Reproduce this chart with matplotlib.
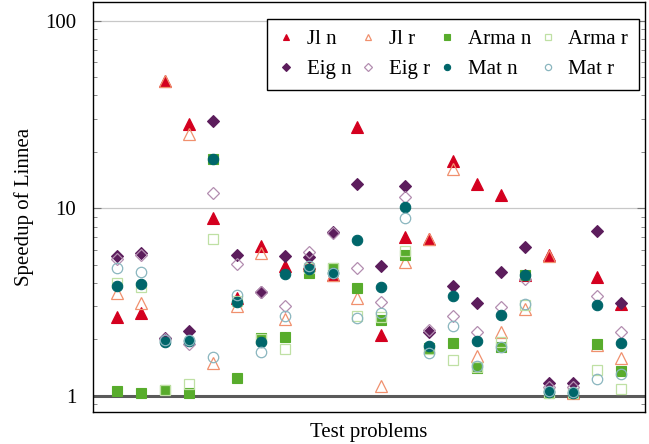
import numpy as np
import matplotlib
matplotlib.use("Agg")
import matplotlib.pyplot as plt

plt.rcParams["font.family"] = ["Liberation Serif", "DejaVu Serif"]

problems = np.arange(1, 23)

jl_n = [2.65, 2.77, 47.5, 28.2, 8.9, 3.34, 6.3, 4.95, 5.1, 4.4, 27.3, 2.12,
        7.0, 6.9, 17.9, 13.5, 11.8, 4.4, 5.65, 1.05, 4.3, 3.1]
jl_r = [3.55, 3.13, 48.0, 24.9, 1.5, 3.03, 5.8, 2.57, 5.0, 4.4, 3.34, 1.13,
        5.2, 6.9, 16.3, 1.63, 2.2, 2.9, 5.6, 1.03, 1.87, 1.59]
arma_n = [1.06, 1.04, 1.08, 1.04, 18.3, 1.25, 2.04, 2.06, 4.5, 4.8, 3.76, 2.54,
          5.65, 1.8, 1.91, 1.41, 1.83, 4.4, 1.03, 1.03, 1.9, 1.36]
arma_r = [4.0, 3.8, 1.08, 1.16, 6.9, 3.2, 2.0, 1.78, 4.8, 4.8, 2.67, 2.64,
          5.9, 1.78, 1.56, 1.43, 1.94, 3.05, 1.04, 1.03, 1.38, 1.09]
eig_n = [5.6, 5.8, 2.04, 2.23, 29.2, 5.64, 3.6, 5.6, 5.5, 7.5, 13.5, 4.95,
         13.1, 2.2, 3.87, 3.13, 4.6, 6.25, 1.17, 1.17, 7.6, 3.13]
eig_r = [5.4, 5.65, 2.0, 1.9, 12.1, 5.05, 3.6, 3.03, 5.85, 7.4, 4.8, 3.17,
         11.5, 2.25, 2.67, 2.2, 2.98, 4.2, 1.12, 1.12, 3.4, 2.2]
mat_n = [3.85, 3.95, 1.94, 1.97, 18.3, 3.17, 1.94, 4.46, 4.75, 4.5, 6.8, 3.8,
         10.2, 1.85, 3.4, 1.97, 2.7, 4.4, 1.05, 1.04, 3.05, 1.92]
mat_r = [4.8, 4.6, 1.99, 1.99, 1.61, 3.46, 1.72, 2.67, 4.95, 4.5, 2.6, 2.77,
         8.9, 1.7, 2.36, 1.45, 1.83, 3.1, 1.06, 1.05, 1.23, 1.31]

series = [
    ("Jl n", jl_n, "^", "#d4001f", True),
    ("Jl r", jl_r, "^", "#f0906e", False),
    ("Arma n", arma_n, "s", "#58ac2c", True),
    ("Arma r", arma_r, "s", "#bfe0a4", False),
    ("Eig n", eig_n, "D", "#5c1d5c", True),
    ("Eig r", eig_r, "D", "#b38db0", False),
    ("Mat n", mat_n, "o", "#00666a", True),
    ("Mat r", mat_r, "o", "#8ab6bf", False),
]

fig = plt.figure(figsize=(6.49, 4.44), dpi=100)
ax = fig.add_axes([0.143, 0.072, 0.851, 0.9235])

handles = []
for label, vals, m, c, filled in series:
    ms = {"^": 8.0, "s": 7.0, "D": 6.5, "o": 7.5}[m]
    h, = ax.plot(problems, vals, ls="none", marker=m, ms=ms,
                 mfc=c if filled else "none", mec=c,
                 mew=0.8 if filled else 0.9, label=label, zorder=3)
    handles.append(h)

ax.set_yscale("log")
ax.set_ylim(0.82, 126)
ax.set_xlim(0, 23)
ax.set_xticks([])
ax.set_yticks([1, 10, 100], ["1", "10", "100"])
ax.tick_params(axis="y", which="both", direction="in", right=True,
               labelsize=15, color="#777777", pad=12)
ax.tick_params(axis="y", which="major", length=6)
ax.tick_params(axis="y", which="minor", length=3)
ax.grid(True, axis="y", which="major", color="#c8c8c8", lw=0.9, zorder=1)
ax.axhline(1, color="#5a5a5a", lw=2.2, zorder=2)
for s in ax.spines.values():
    s.set_linewidth(1.0)

ax.set_xlabel("Test problems", fontsize=15, labelpad=8)
ax.set_ylabel("Speedup of Linnea", fontsize=15, labelpad=8)

# legend is filled column by column, so interleave to get row order
order = [0, 4, 1, 5, 2, 6, 3, 7]
leg = ax.legend([handles[i] for i in order], [series[i][0] for i in order],
                loc="upper right", ncol=4, fontsize=15, frameon=True,
                fancybox=False, edgecolor="black", framealpha=1,
                markerscale=0.6, handlelength=0.8, handletextpad=0.6,
                columnspacing=0.4, borderpad=0.5, labelspacing=0.5,
                borderaxespad=0.2, bbox_to_anchor=(0.996, 0.968))
leg.get_frame().set_linewidth(1.0)

fig.savefig("out.png", dpi=100)
